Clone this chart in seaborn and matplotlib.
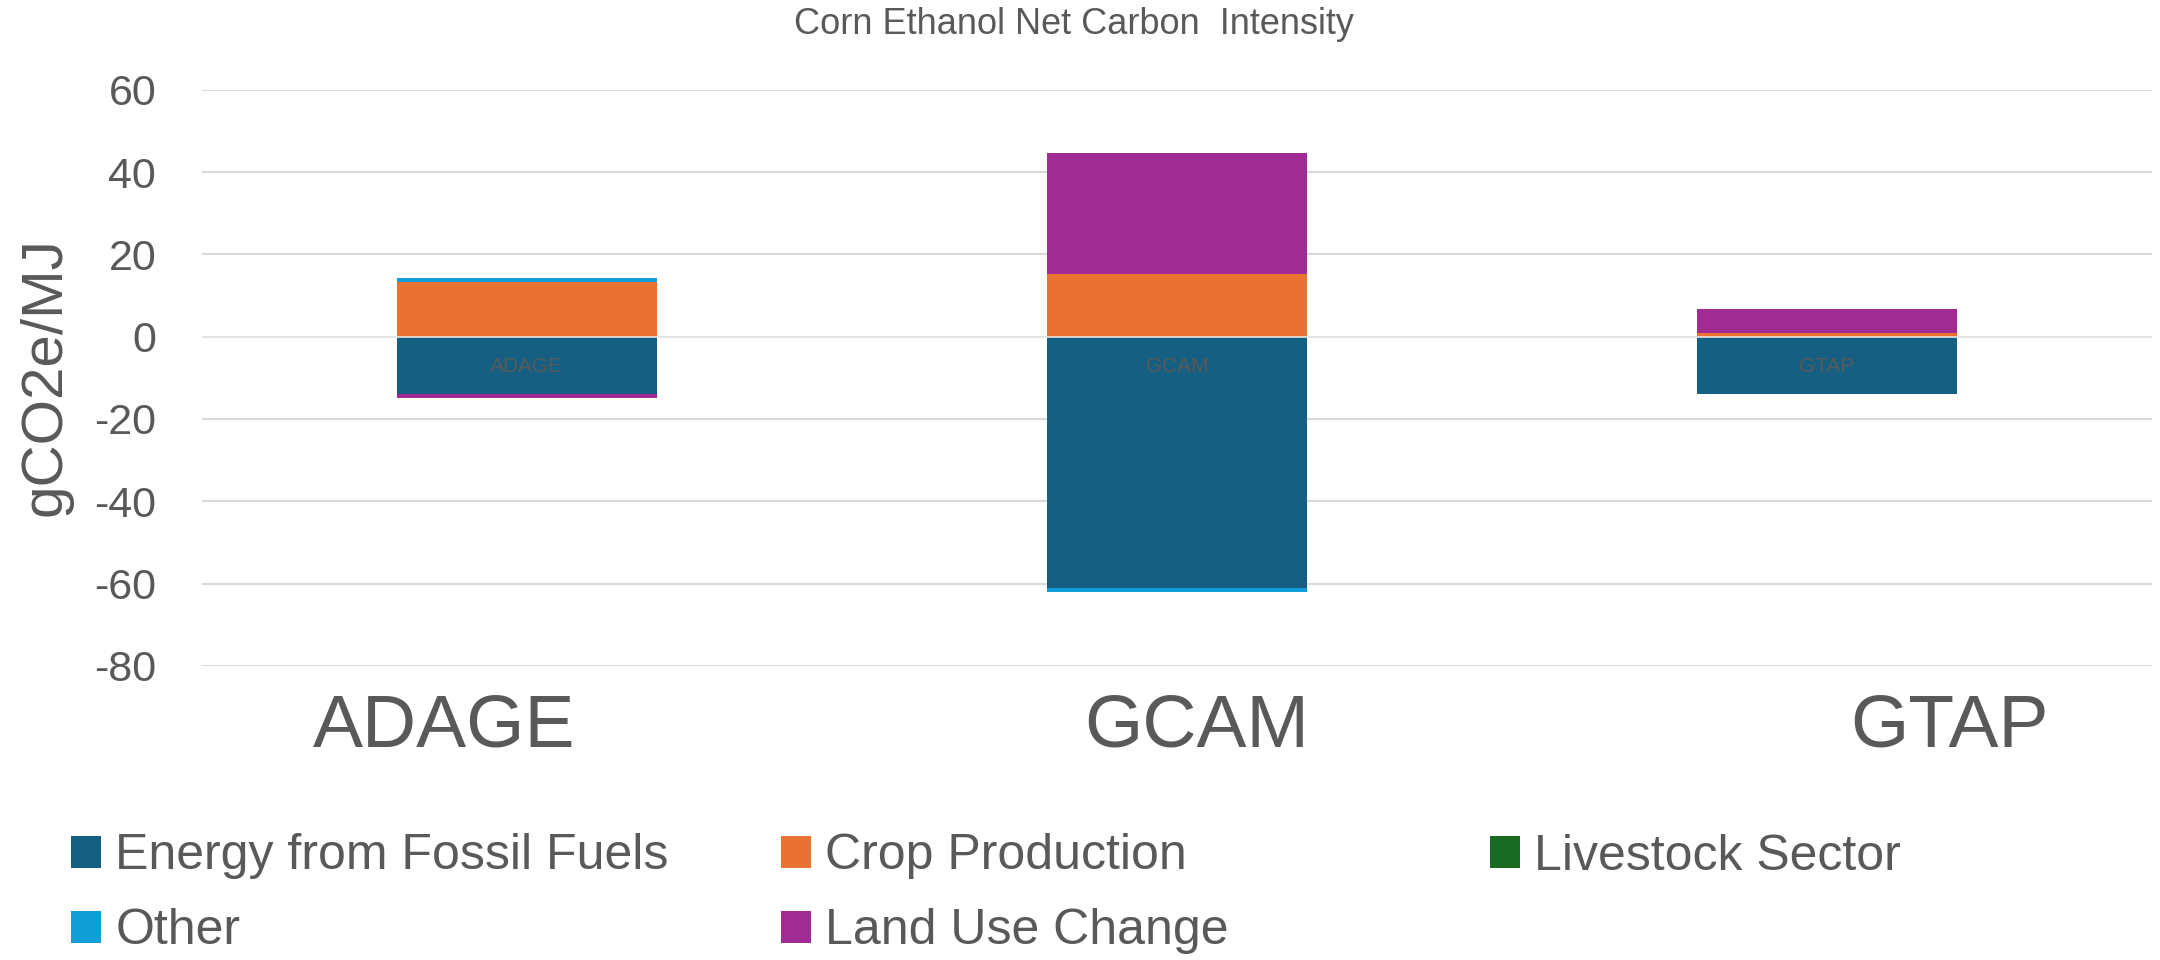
import matplotlib
matplotlib.use("Agg")
import matplotlib.pyplot as plt
import seaborn as sns
import numpy as np
import pandas as pd
from matplotlib.patches import Patch

# Corn ethanol net carbon intensity by model and emission source (gCO2e/MJ)
models = ["ADAGE", "GCAM", "GTAP"]
energy_fossil = [-14.0, -61.1, -14.0]
crop_production = [13.2, 15.2, 1.0]
livestock_sector = [0.0, 0.1, 0.0]
other = [1.0, -1.0, 0.0]
land_use_change = [-0.9, 29.3, 5.6]

series_names = ["Energy from Fossil Fuels", "Crop Production", "Livestock Sector",
                "Other", "Land Use Change"]
series_values = [energy_fossil, crop_production, livestock_sector, other, land_use_change]
series_colors = ["#156082", "#E97132", "#196B24", "#0F9ED5", "#A02B93"]

y_ticks = [60, 40, 20, 0, -20, -40, -60, -80]
title = "Corn Ethanol Net Carbon  Intensity"
y_title = "gCO2e/MJ"

sns.set_theme(style="white")
plt.rcParams["font.family"] = ["Liberation Sans", "DejaVu Sans"]
text_color = "#595959"

fig = plt.figure(figsize=(21.6, 9.6), dpi=100)
ax = fig.add_axes([0.0935, 0.3064, 0.9027, 0.6001])

# Stack positive and negative contributions separately
pos_base = np.zeros(len(models))
neg_base = np.zeros(len(models))
for name, vals, col in zip(series_names, series_values, series_colors):
    vals = np.asarray(vals, dtype=float)
    bottoms = np.where(vals >= 0, pos_base, neg_base)
    df = pd.DataFrame({"model": models, "value": vals})
    sns.barplot(data=df, x="model", y="value", order=models, bottom=bottoms,
                color=col, saturation=1, width=0.4, ax=ax, zorder=2,
                edgecolor="none", linewidth=0, errorbar=None)
    pos_base = pos_base + np.where(vals >= 0, vals, 0)
    neg_base = neg_base + np.where(vals < 0, vals, 0)

# In-bar model labels
for i, m in enumerate(models):
    ax.text(i, -7.2, m, ha="center", va="center", fontsize=15, color=text_color, zorder=3)

ax.set_xlim(-0.5, 2.5)
ax.set_ylim(-80, 60)
ax.set_yticks(y_ticks)
ax.set_yticklabels([str(t) for t in y_ticks])
ax.yaxis.grid(True, color="#D9D9D9", linewidth=1.5, zorder=0)
ax.xaxis.grid(False)
ax.set_axisbelow(True)
ax.axhline(0, color="#E6E6E6", linewidth=1.2, zorder=2.5)
for s in ax.spines.values():
    s.set_visible(False)

ax.tick_params(axis="y", length=0, pad=33, labelsize=31, labelcolor=text_color)
ax.tick_params(axis="x", length=0, labelbottom=False)
ax.set_xlabel("")
ax.set_ylabel("")

# Category axis labels, spread slightly wider than the bars
for i, m in enumerate(models):
    ax.text(1.03 + (i - 1) * 1.158, -0.047, m, transform=ax.get_xaxis_transform(),
            ha="center", va="top", fontsize=54, color=text_color)

fig.text(0.0278, 0.6078, y_title, rotation=90, rotation_mode="anchor",
         ha="center", va="baseline", fontsize=42, color=text_color)
fig.text(0.497, 0.974, title, ha="center", va="center", fontsize=26, color=text_color)

# Legend laid out in rows of three
handles = [Patch(facecolor=c, edgecolor="none", label=n)
           for n, c in zip(series_names, series_colors)]
leg_kw = dict(frameon=False, fontsize=36, handlelength=0.6, handleheight=0.6,
              handletextpad=0.28, borderpad=0, borderaxespad=0, labelspacing=0.58,
              labelcolor=text_color, loc="center left")
columns = [([handles[0], handles[3]], 0.0331, 0.069),
           ([handles[1], handles[4]], 0.3616, 0.069),
           ([handles[2]], 0.690, 0.1075)]
for hs, x, y in columns:
    fig.legend(handles=hs, bbox_to_anchor=(x, y), **leg_kw)

fig.savefig("out.png", dpi=100)
